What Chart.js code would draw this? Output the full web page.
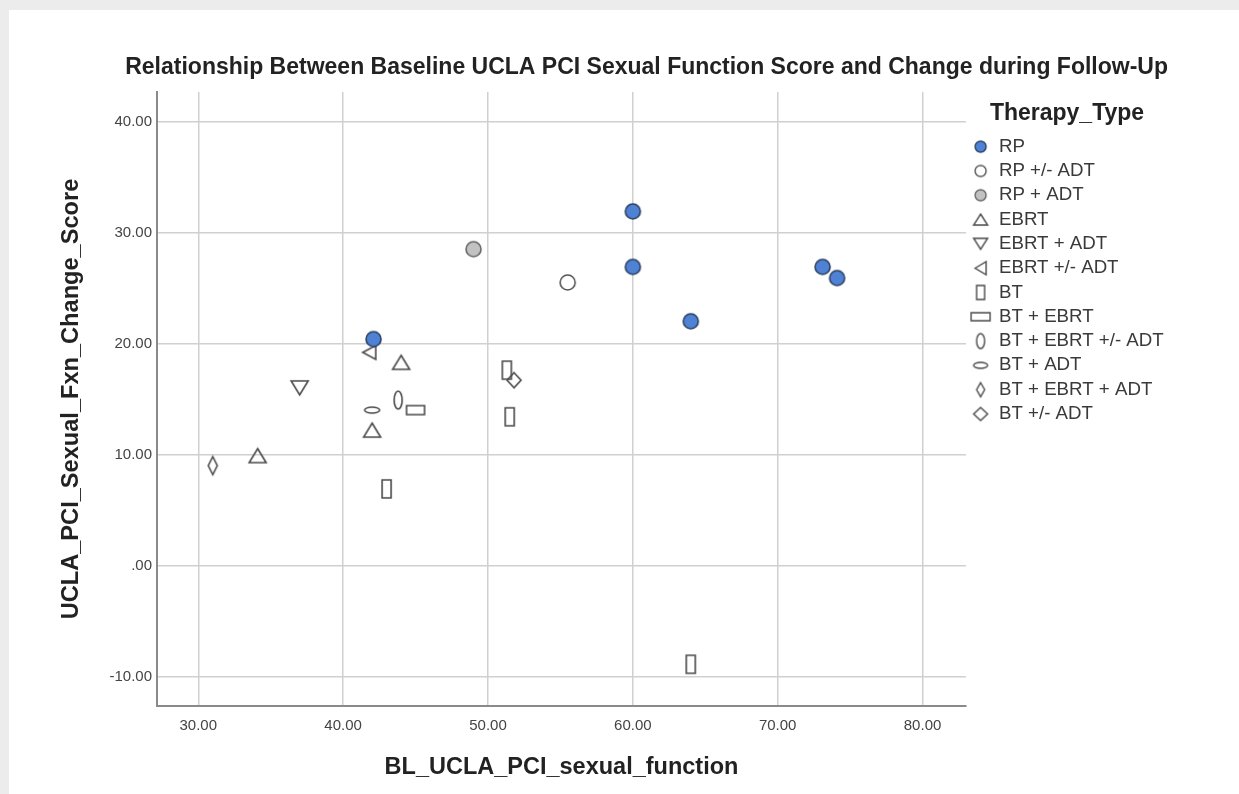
<!DOCTYPE html>
<html>
<head>
<meta charset="utf-8">
<script src="https://cdn.jsdelivr.net/npm/chart.js@4.4.1/dist/chart.umd.min.js"></script>
<style>
  html, body { margin: 0; padding: 0; background: #ececec; }
  #panel { position: absolute; left: 9px; top: 10px; width: 1230px; height: 784px; background: #ffffff; }
  canvas { display: block; }
</style>
</head>
<body>
<div id="panel"><canvas id="chart" width="1230" height="784"></canvas></div>
<script>
// Baseline score (x) and change score (y) per therapy group
const rp           = [[42.1, 20.4], [60.0, 31.9], [60.0, 26.9], [64.0, 22.0], [73.1, 26.9], [74.1, 25.9]];
const rpOptAdt     = [[55.5, 25.5]];
const rpAdt        = [[49.0, 28.5]];
const ebrt         = [[44.0, 18.3], [42.0, 12.2], [34.1, 9.9]];
const ebrtAdt      = [[37.0, 16.0]];
const ebrtOptAdt   = [[41.8, 19.2]];
const bt           = [[43.0, 6.9], [51.3, 17.6], [51.5, 13.4], [64.0, -8.9]];
const btEbrt       = [[45.0, 14.0]];
const btEbrtOptAdt = [[43.8, 14.9]];
const btAdt        = [[42.0, 14.0]];
const btEbrtAdt    = [[31.0, 9.0]];
const btOptAdt     = [[51.8, 16.7]];

const therapyTypes = ['RP', 'RP +/- ADT', 'RP + ADT', 'EBRT', 'EBRT + ADT', 'EBRT +/- ADT',
  'BT', 'BT + EBRT', 'BT + EBRT +/- ADT', 'BT + ADT', 'BT + EBRT + ADT', 'BT +/- ADT'];
const therapyPoints = [rp, rpOptAdt, rpAdt, ebrt, ebrtAdt, ebrtOptAdt,
  bt, btEbrt, btEbrtOptAdt, btAdt, btEbrtAdt, btOptAdt];

const xTickValues = [30, 40, 50, 60, 70, 80];
const yTickValues = [-10, 0, 10, 20, 30, 40];

const chartTitle = 'Relationship Between Baseline UCLA PCI Sexual Function Score and Change during Follow-Up';
const xTitle = 'BL_UCLA_PCI_sexual_function';
const yTitle = 'UCLA_PCI_Sexual_Fxn_Change_Score';
const legendTitle = 'Therapy_Type';

// ---- marker glyphs (drawn once into small canvases, used as point styles) ----
function makeMarker(shape, w, h, fill, stroke, lw) {
  const pad = Math.ceil(lw) + 1;
  const c = document.createElement('canvas');
  c.width = Math.round(w + pad * 2);
  c.height = Math.round(h + pad * 2);
  const g = c.getContext('2d');
  g.translate(c.width / 2, c.height / 2);
  const a = w / 2, b = h / 2;
  g.beginPath();
  switch (shape) {
    case 'ellipse': g.ellipse(0, 0, a, b, 0, 0, Math.PI * 2); break;
    case 'rect': g.rect(-a, -b, w, h); break;
    case 'up': g.moveTo(0, -b); g.lineTo(a, b); g.lineTo(-a, b); g.closePath(); break;
    case 'down': g.moveTo(-a, -b); g.lineTo(a, -b); g.lineTo(0, b); g.closePath(); break;
    case 'left': g.moveTo(-a, 0); g.lineTo(a, -b); g.lineTo(a, b); g.closePath(); break;
    case 'diamond': g.moveTo(0, -b); g.lineTo(a, 0); g.lineTo(0, b); g.lineTo(-a, 0); g.closePath(); break;
  }
  if (fill) { g.fillStyle = fill; g.fill(); }
  g.lineWidth = lw;
  g.strokeStyle = stroke;
  g.stroke();
  return c;
}

const OUTLINE = '#4a4a4a';
// shape, plot w/h, legend w/h, fill, stroke
const markerSpecs = [
  ['ellipse', 15, 15, 11, 11, '#4f81d4', '#2c4063'],
  ['ellipse', 15, 15, 11, 11, '#ffffff', '#555555'],
  ['ellipse', 15, 15, 11, 11, '#c2c2c2', '#666666'],
  ['up',      17, 14, 14, 11, null, OUTLINE],
  ['down',    17, 14, 14, 11, null, OUTLINE],
  ['left',    13, 14, 11, 13, null, OUTLINE],
  ['rect',     9, 18,  8, 14, null, OUTLINE],
  ['rect',    18,  9, 19,  8, null, OUTLINE],
  ['ellipse',  8, 18,  8, 15, null, OUTLINE],
  ['ellipse', 15,  6, 14,  6, null, OUTLINE],
  ['diamond',  9, 18,  8, 14, null, OUTLINE],
  ['diamond', 14, 15, 14, 13, null, OUTLINE]
];
const plotMarkers = markerSpecs.map(s => makeMarker(s[0], s[1], s[2], s[5], s[6], 1.6));
const legendMarkers = markerSpecs.map(s => makeMarker(s[0], s[3], s[4], s[5], s[6], 1.4));

const FONT = '"Liberation Sans", Arial, Helvetica, sans-serif';
Chart.defaults.font.family = FONT;

const fmtTick = v => (v === 0 ? '.00' : Number(v).toFixed(2));

const datasets = therapyTypes.map((name, i) => ({
  label: name,
  data: therapyPoints[i].map(([x, y]) => ({ x, y })),
  pointStyle: plotMarkers[i],
  pointRadius: 7,
  pointHoverRadius: 7,
  showLine: false
}));

new Chart(document.getElementById('chart'), {
  type: 'scatter',
  data: { datasets },
  options: {
    responsive: false,
    animation: false,
    events: [],
    layout: { padding: { left: 0, right: 71, top: 0, bottom: 0 } },
    plugins: {
      tooltip: { enabled: false },
      title: {
        display: true,
        text: chartTitle,
        align: 'end',
        color: '#222222',
        font: { size: 23, weight: 'bold' },
        padding: { top: 44.2, bottom: 10.2 }
      },
      legend: {
        position: 'right',
        align: 'start',
        maxWidth: 202,
        title: {
          display: true,
          text: legendTitle,
          color: '#222222',
          font: { size: 23, weight: 'bold' },
          padding: { top: 92.5, bottom: 1.6 }
        },
        labels: {
          usePointStyle: true,
          pointStyleWidth: 18,
          padding: 5.6,
          color: '#3a3a3a',
          font: { size: 18.7 },
          generateLabels: chart => Chart.defaults.plugins.legend.labels.generateLabels(chart)
            .map(item => Object.assign(item, { pointStyle: legendMarkers[item.datasetIndex] }))
        }
      }
    },
    scales: {
      x: {
        type: 'linear',
        min: 27.15,
        max: 83.0,
        afterFit: s => { s.height = 88; },
        afterBuildTicks: s => { s.ticks = xTickValues.map(v => ({ value: v })); },
        ticks: { callback: fmtTick, padding: 11, color: '#444444', font: { size: 15 }, maxRotation: 0 },
        grid: { color: '#d0d0d0', lineWidth: 1.5, drawTicks: false },
        border: { color: '#8a8a8a', width: 2 },
        title: {
          display: true, text: xTitle, color: '#222222',
          font: { size: 23.5, weight: 'bold' },
          padding: { top: 0, bottom: 12 }
        }
      },
      y: {
        type: 'linear',
        min: -12.66,
        max: 42.66,
        afterFit: s => { s.width = 148; },
        afterBuildTicks: s => { s.ticks = yTickValues.map(v => ({ value: v })); },
        ticks: { callback: fmtTick, padding: 5, color: '#444444', font: { size: 15 } },
        grid: { color: '#d0d0d0', lineWidth: 1.5, drawTicks: false },
        border: { color: '#8a8a8a', width: 2 },
        title: {
          display: true, text: yTitle, color: '#222222',
          font: { size: 23.6, weight: 'bold' },
          padding: { top: 48, bottom: 0 }
        }
      }
    }
  }
});
</script>
</body>
</html>
